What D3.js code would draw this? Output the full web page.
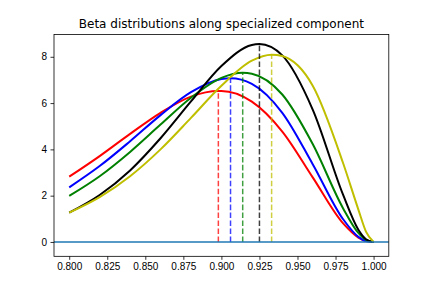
<!DOCTYPE html>
<html lang="en">
<head>
<meta charset="UTF-8">
<title>Beta distributions along specialized component</title>
<script src="https://d3js.org/d3.v7.min.js"></script>
<style>
    body { margin: 0; background: #fff; }
    svg { display: block; font-family: "DejaVu Sans", sans-serif; }
    .tick text { font-size: 10px; fill: #000; }
</style>
</head>
<body>
<svg width="432" height="288"></svg>
<script>
// values
const xGrid   = [0.80, 0.82, 0.84, 0.86, 0.88, 0.90, 0.92, 0.94, 0.96, 0.98, 0.99, 0.995, 1.00];
const redY    = [2.82, 3.71, 4.67, 5.58, 6.28, 6.52, 6.06, 4.77, 2.79, 0.80, 0.19, 0.04, 0];
const blueY   = [2.36, 3.28, 4.35, 5.48, 6.47, 7.04, 6.83, 5.58, 3.36, 0.98, 0.22, 0.04, 0];
const greenY  = [1.99, 2.84, 3.89, 5.07, 6.23, 7.09, 7.27, 6.37, 4.23, 1.45, 0.39, 0.09, 0];
const blackY  = [1.27, 2.03, 3.09, 4.48, 6.07, 7.60, 8.51, 8.06, 5.72, 2.03, 0.53, 0.12, 0];
const yellowY = [1.27, 1.94, 2.84, 4.00, 5.36, 6.75, 7.83, 8.03, 6.75, 3.40, 1.40, 0.45, 0];
const modes   = [0.898, 0.906, 0.914, 0.925, 0.933];
const peaks   = [6.52, 7.07, 7.31, 8.55, 8.09];
const colors  = ["#ff0000", "#0000ff", "#008000", "#000000", "#bfbf00"];
const xTicks  = [0.800, 0.825, 0.850, 0.875, 0.900, 0.925, 0.950, 0.975, 1.000];
const yTicks  = [0, 2, 4, 6, 8];
const title   = "Beta distributions along specialized component";

const series = [redY, blueY, greenY, blackY, yellowY];

const width = 432, height = 288;
const margin = { left: 54, right: 43.2, top: 34.56, bottom: 31.68 };

const svg = d3.select("svg");

const x = d3.scaleLinear()
    .domain([0.79, 1.01])
    .range([margin.left, width - margin.right]);

const y = d3.scaleLinear()
    .domain([-0.62, 8.96])
    .range([height - margin.bottom, margin.top]);

// clip to axes area
svg.append("clipPath").attr("id", "clip")
    .append("rect")
    .attr("x", margin.left).attr("y", margin.top)
    .attr("width", width - margin.left - margin.right)
    .attr("height", height - margin.top - margin.bottom);

const plot = svg.append("g").attr("clip-path", "url(#clip)");

const line = d3.line()
    .x(d => x(d[0]))
    .y(d => y(d[1]))
    .curve(d3.curveMonotoneX);

// curves, with the peak point merged in
series.forEach(function (vals, i) {
    let pts = xGrid.map((xv, j) => [xv, vals[j]]);
    pts.push([modes[i], peaks[i]]);
    pts.sort((a, b) => a[0] - b[0]);
    plot.append("path")
        .datum(pts)
        .attr("d", line)
        .attr("fill", "none")
        .attr("stroke", colors[i])
        .attr("stroke-width", 2);
});

// dashed lines at each mode
modes.forEach(function (m, i) {
    plot.append("line")
        .attr("x1", x(m)).attr("x2", x(m))
        .attr("y1", y(0)).attr("y2", y(peaks[i]))
        .attr("stroke", colors[i])
        .attr("stroke-opacity", 0.75)
        .attr("stroke-width", 1.5)
        .attr("stroke-dasharray", "5.55,2.4");
});

// horizontal line at zero
plot.append("line")
    .attr("x1", margin.left).attr("x2", width - margin.right)
    .attr("y1", y(0)).attr("y2", y(0))
    .attr("stroke", "#1f77b4")
    .attr("stroke-width", 1.5);

// axes
const xAxis = svg.append("g")
    .attr("transform", `translate(0, ${height - margin.bottom})`)
    .call(d3.axisBottom(x).tickValues(xTicks).tickFormat(d3.format(".3f")).tickSizeOuter(0).tickSize(3.5).tickPadding(3.5));

const yAxis = svg.append("g")
    .attr("transform", `translate(${margin.left}, 0)`)
    .call(d3.axisLeft(y).tickValues(yTicks).tickFormat(d3.format("d")).tickSizeOuter(0).tickSize(3.5).tickPadding(3.5));

[xAxis, yAxis].forEach(g => {
    g.select(".domain").remove();
    g.selectAll(".tick line").attr("stroke", "#000").attr("stroke-width", 0.8);
});

// frame
svg.append("rect")
    .attr("x", margin.left).attr("y", margin.top)
    .attr("width", width - margin.left - margin.right)
    .attr("height", height - margin.top - margin.bottom)
    .attr("fill", "none")
    .attr("stroke", "#000")
    .attr("stroke-width", 0.8);

svg.append("text")
    .attr("x", (margin.left + width - margin.right) / 2)
    .attr("y", margin.top - 6.5)
    .attr("text-anchor", "middle")
    .attr("font-size", 12)
    .attr("fill", "#000")
    .text(title);
</script>
</body>
</html>
